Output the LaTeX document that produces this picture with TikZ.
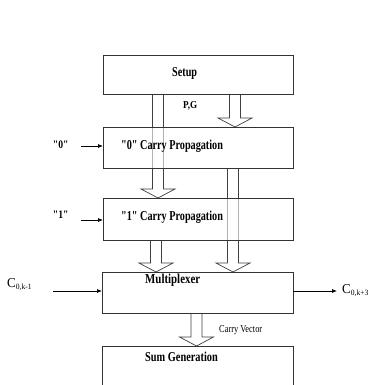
\documentclass[tikz,border=0pt]{standalone}
\usepackage{fontspec}
\usepackage{graphicx}
\setmainfont{Liberation Serif}
\newfontfamily\tnr{Liberation Serif}
\usetikzlibrary{calc,arrows.meta}
\pgfdeclarelayer{back}
\pgfsetlayers{back,main}

% horizontally condensed text
\newcommand\narrow[2]{\scalebox{#1}[1]{#2}}
% wide hollow arrow from #1 down to the tip #2
\newcommand\hollowarrow[2]{%
  \draw[hollow] let \p1=(#1), \p2=(#2) in
    (\x1-5.5pt,\y1) -- (\x1-5.5pt,\y2+9pt) -- (\x1-17pt,\y2+9pt) -- (\x1,\y2)
    -- (\x1+17pt,\y2+9pt) -- (\x1+5.5pt,\y2+9pt) -- (\x1+5.5pt,\y1);}

\begin{document}
\begin{tikzpicture}[x=1pt,y=-1pt,
  block/.style={draw=black!80, line width=0.8pt, fill=white, fill opacity=0.6,
    text opacity=1, inner sep=0pt, outer sep=0pt, minimum width=190pt},
  hollow/.style={draw=black!75, line width=0.7pt, line join=miter},
  sig/.style={draw=black, line width=0.7pt, -{Latex[length=5pt,width=4pt]}},
  lbl/.style={inner sep=0pt, anchor=base west, font=\tnr\fontsize{13.6}{16}\selectfont},
  small/.style={inner sep=0pt, anchor=base west, font=\tnr\fontsize{10.6}{12}\selectfont}
]
\useasboundingbox (0,0) rectangle (373,385);
\clip (0,0) rectangle (373,385);

% blocks
\node[block, minimum height=39pt] (setup) at (198,74.5) {};
\node[block, minimum height=41pt] (zero)  at (198,147.5) {};
\node[block, minimum height=42pt] (one)   at (198,219) {};
\node[block, minimum height=41pt, minimum width=191pt] (mux) at (197.5,292.5) {};
\node[block, minimum height=74pt, minimum width=191pt] (sum) at (197.5,383) {};

% block texts
\node[lbl] (setupT) at (172,77)  {\narrow{0.75}{\bfseries Setup}};
\node[lbl] (zeroT)  at (121,149) {\narrow{0.75}{\bfseries "0" Carry Propagation}};
\node[lbl] (oneT)   at (121,220) {\narrow{0.75}{\bfseries "1" Carry Propagation}};
\node[lbl] (muxT)   at (145,283) {\narrow{0.8}{\bfseries Multiplexer}};
\node[lbl] (sumT)   at (145,361) {\narrow{0.76}{\bfseries Sum Generation}};

% signal labels
\node[small] (pg) at (183,109) {\narrow{0.86}{\bfseries P,G}};
\node[small] (cv) at (219,332) {\narrow{0.79}{Carry Vector}};
\node[inner sep=0pt, anchor=base west, font=\tnr\fontsize{11.5}{13}\selectfont\bfseries]
  (zin) at (52.7,148) {\narrow{0.84}{"0"}};
\node[inner sep=0pt, anchor=base west, font=\tnr\fontsize{11.5}{13}\selectfont\bfseries]
  (oin) at (52.7,218.3) {\narrow{0.84}{"1"}};
\node[lbl] (cin)  at (7,287)   {\narrow{0.95}{C\raisebox{-2.5pt}{\fontsize{8}{9}\selectfont 0,k-1}}};
\node[lbl] (cout) at (342,293) {\narrow{0.95}{C\raisebox{-2.5pt}{\fontsize{8}{9}\selectfont 0,k+3}}};

% thin signal arrows
\coordinate (zsrc) at (81,146);
\coordinate (osrc) at (81,220);
\coordinate (csrc) at (53,291);
\coordinate (cdst) at (337,291);
\draw[sig] (zsrc) -- (zsrc -| zero.west);
\draw[sig] (osrc) -- (osrc -| one.west);
\draw[sig] (csrc) -- (csrc -| mux.west);
\draw[sig] (cdst -| mux.east) -- (cdst);

% wide data-path arrows, behind the blocks
\coordinate (colA) at (235,0);
\coordinate (colB) at (158,0);
\coordinate (colC) at (233,0);
\coordinate (colD) at (156,0);
\coordinate (colE) at (196.5,0);
\begin{pgfonlayer}{back}
  \fill[white] (0,0) rectangle (373,385);
  \hollowarrow{setup.south -| colA}{zero.north -| colA}
  \hollowarrow{setup.south -| colB}{one.north -| colB}
  \hollowarrow{zero.south -| colC}{mux.north -| colC}
  \hollowarrow{one.south -| colD}{mux.north -| colD}
  \hollowarrow{mux.south -| colE}{sum.north -| colE}
\end{pgfonlayer}
\end{tikzpicture}
\end{document}
